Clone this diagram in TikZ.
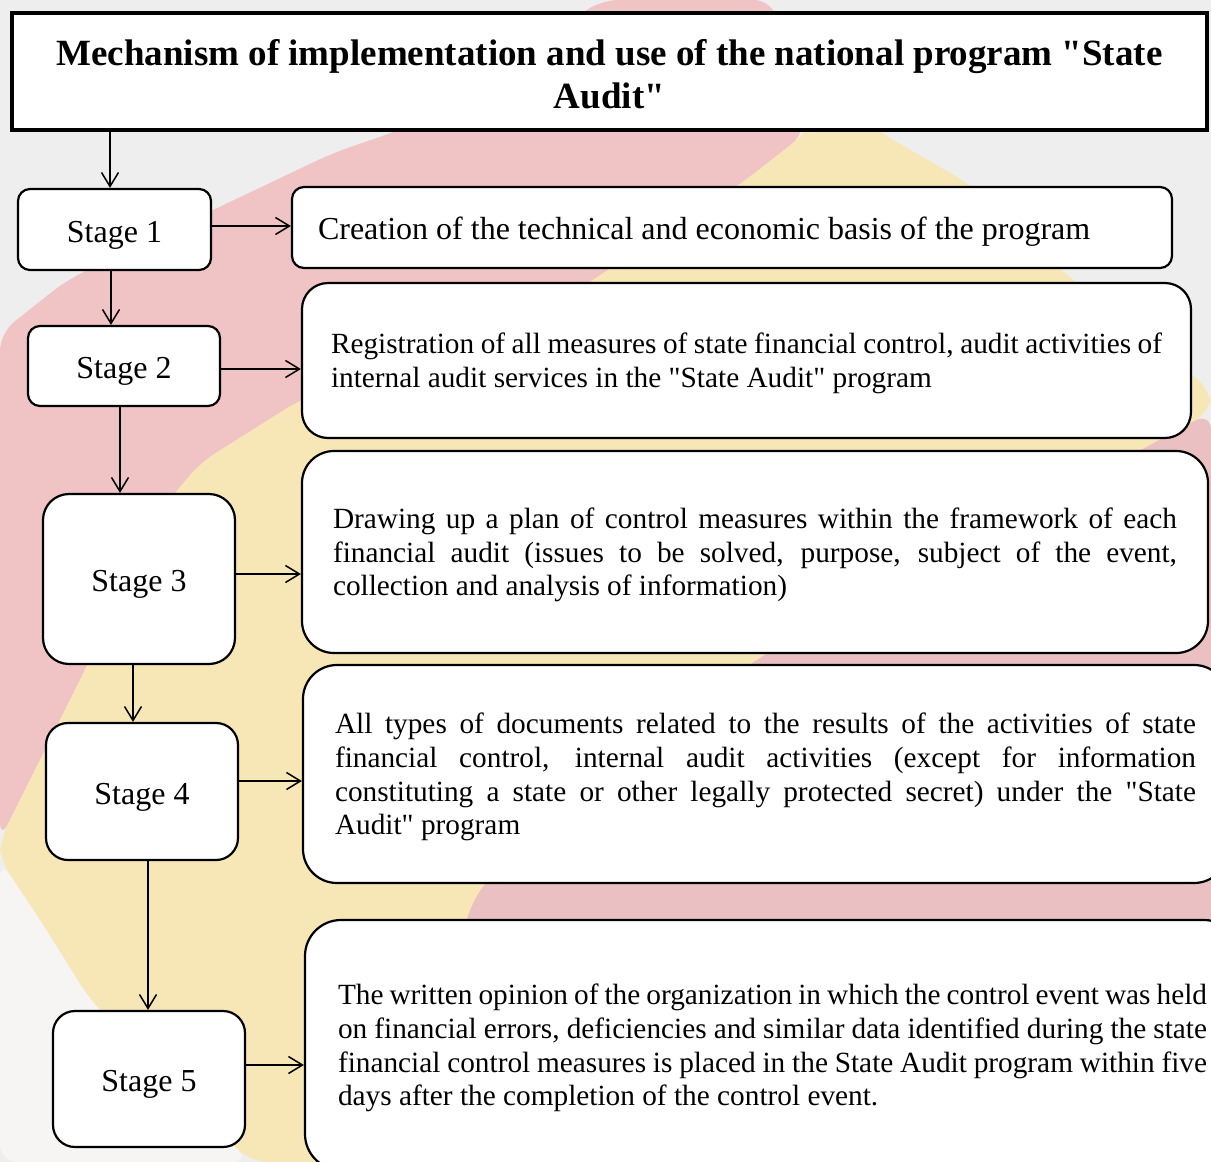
\documentclass[tikz,border=0pt]{standalone}
\usepackage{fontspec}
\setmainfont{Liberation Serif}[Ligatures=TeXOff]
\usetikzlibrary{arrows.meta}

\definecolor{bggray}{HTML}{EFEEEE}
\definecolor{flagred}{HTML}{F0C3C4}
\definecolor{flagredlow}{HTML}{EBC0C2}
\definecolor{flagyellow}{HTML}{F8E7B6}
\definecolor{bgwhite}{HTML}{F7F5F4}

\tikzset{
  frame/.style={draw=black, line width=2.2pt, fill=white, inner sep=0pt},
  stagebox/.style={frame, minimum width=192pt, font=\fontsize{32}{34}\selectfont,
    text height=32pt, text depth=7pt},
  bodytext/.style={inner sep=0pt, align=flush left, font=\fontsize{29.3}{33.7}\selectfont},
  leadtext/.style={bodytext, font=\fontsize{32}{34}\selectfont},
  titlebox/.style={draw=black, line width=4pt, fill=white, inner sep=0pt,
    minimum width=1195pt, minimum height=117pt},
  titletext/.style={inner sep=0pt, align=center, font=\bfseries\fontsize{37}{43}\selectfont},
  arr/.style={line width=1.5pt, -{Straight Barb[length=14pt, width=17pt, line width=1.5pt]}}
}

\begin{document}
\begin{tikzpicture}[x=1pt, y=-1pt]
  \useasboundingbox (0,0) rectangle (1211,1162);

  % faded flag in the background
  \fill[bggray] (0,0) rectangle (1211,1162);
  \fill[flagred, rounded corners=18pt] (600,0) -- (772,0) -- (806,133) -- (742,183) -- (562,300)
    -- (300,400) -- (200,463) -- (120,560) -- (90,660) -- (0,840) -- (0,333) -- (67,280)
    -- (213,210) -- (333,153) -- (400,130) -- (520,60) -- cycle;
  \fill[flagyellow, rounded corners=18pt] (830,90) -- (881,133) -- (968,183) -- (1067,275)
    -- (1211,390) -- (1211,412) -- (1150,445) -- (755,660) -- (483,883) -- (465,920)
    -- (420,1162) -- (250,1162) -- (90,1000) -- (40,920) -- (0,860) -- (0,840) -- (90,660)
    -- (120,560) -- (200,463) -- (300,400) -- (562,300) -- (742,183) -- (806,133) -- cycle;
  \fill[flagredlow, rounded corners=18pt] (1211,412) -- (1150,445) -- (755,660) -- (483,883)
    -- (465,920) -- (420,1162) -- (1211,1162) -- cycle;
  \fill[bgwhite, rounded corners=18pt] (0,860) -- (40,920) -- (90,1000) -- (250,1162)
    -- (0,1162) -- cycle;

  % heading
  \node[titlebox] (title) at (609.5,71.5) {};
  \node[titletext] (ttl) at ([yshift=-2.5pt]title.center)
    {Mechanism of implementation and use of the national program "State\\Audit"};

  % stages
  \node[stagebox, rounded corners=12pt, minimum width=193pt, minimum height=81pt] (s1) at (114.5,229.5) {Stage 1};
  \node[stagebox, rounded corners=12pt, minimum height=80pt] (s2) at (124,366) {Stage 2};
  \node[stagebox, rounded corners=26pt, minimum height=170pt] (s3) at (139,579) {Stage 3};
  \node[stagebox, rounded corners=22pt, minimum height=137pt] (s4) at (142,791.5) {Stage 4};
  \node[stagebox, rounded corners=22pt, minimum height=136pt] (s5) at (149,1079) {Stage 5};

  % description frames
  \node[frame, rounded corners=12pt, minimum width=880pt, minimum height=81pt] (b1) at (732,227.5) {};
  \node[frame, rounded corners=26pt, minimum width=889pt, minimum height=155pt] (b2) at (746.5,360.5) {};
  \node[frame, rounded corners=32pt, minimum width=906pt, minimum height=202pt] (b3) at (755,552) {};
  \node[frame, rounded corners=34pt, minimum width=925pt, minimum height=218pt] (b4) at (765.5,774) {};
  \node[frame, rounded corners=36pt, minimum width=935pt, minimum height=250pt] (b5) at (772.5,1045) {};

  % description texts
  \node[leadtext, text width=828pt] (t1) at ([yshift=-4pt]b1.center)
    {Creation of the technical and economic basis of the program};
  \node[bodytext, text width=831pt] (t2) at ([yshift=-3pt]b2.center)
    {\makebox[831pt][s]{Registration of all measures of state financial control, audit activities of}\\
     internal audit services in the "State Audit" program};
  \node[bodytext, text width=844pt] (t3) at ([yshift=-3pt]b3.center)
    {\makebox[844pt][s]{Drawing up a plan of control measures within the framework of each}\\
     \makebox[844pt][s]{financial audit (issues to be solved, purpose, subject of the event,}\\
     collection and analysis of information)};
  \node[bodytext, text width=861pt] (t4) at ([yshift=-3pt]b4.center)
    {\makebox[861pt][s]{All types of documents related to the results of the activities of state}\\
     \makebox[861pt][s]{financial control, internal audit activities (except for information}\\
     \makebox[861pt][s]{constituting a state or other legally protected secret) under the "State}\\
     Audit" program};
  \node[bodytext, text width=869pt] (t5) at ([yshift=-3pt]b5.center)
    {\makebox[869pt][s]{The written opinion of the organization in which the control event was held}\\
     \makebox[869pt][s]{on financial errors, deficiencies and similar data identified during the state}\\
     \makebox[869pt][s]{financial control measures is placed in the State Audit program within five}\\
     days after the completion of the control event.};

  % flow down the stages
  \draw[arr] (title.south -| 110,0) -- (s1.north -| 110,0);
  \draw[arr] (s1.south -| 111,0) -- (s2.north -| 111,0);
  \draw[arr] (s2.south -| 120,0) -- (s3.north -| 120,0);
  \draw[arr] (s3.south -| 133,0) -- (s4.north -| 133,0);
  \draw[arr] (s4.south -| 148,0) -- (s5.north -| 148,0);

  % stage to description
  \draw[arr] (s1.east |- 0,226) -- (b1.west |- 0,226);
  \draw[arr] (s2.east |- 0,369) -- (b2.west |- 0,369);
  \draw[arr] (s3.east |- 0,574) -- (b3.west |- 0,574);
  \draw[arr] (s4.east |- 0,781) -- (b4.west |- 0,781);
  \draw[arr] (s5.east |- 0,1065) -- (b5.west |- 0,1065);
\end{tikzpicture}
\end{document}
